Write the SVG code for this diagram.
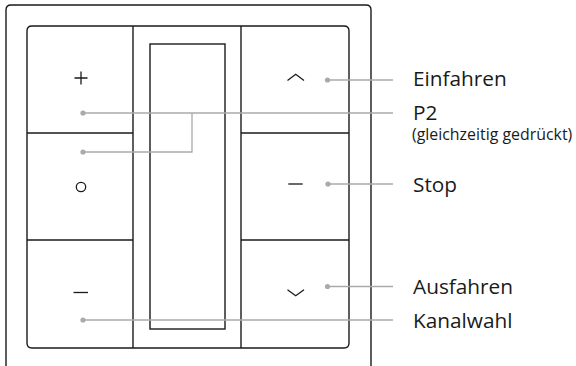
<svg xmlns="http://www.w3.org/2000/svg" width="576" height="366" viewBox="0 0 576 366">
<style>
.frame{fill:none;stroke:#1a1a1a;stroke-width:1.4}
.key{fill:none;stroke:#1a1a1a;stroke-width:1.4}
.sym{fill:none;stroke:#1a1a1a;stroke-width:1.3}
.lead{fill:none;stroke:#aaaaaa;stroke-width:1.3}
.dot{fill:#aaaaaa}
.lbl{font-family:"Open Sans","Noto Sans",sans-serif;font-size:20.8px;fill:#1a1a1a}
.sub{font-family:"Open Sans","Noto Sans",sans-serif;font-size:15.9px;fill:#1a1a1a}
</style>
<rect width="576" height="366" fill="#ffffff"/>
<g id="housing">
<path class="frame" d="M6,370 V10 Q6,5 11,5 H366 Q371,5 371,10 V370"/>
</g>
<g id="panel">
<path class="frame" d="M27,31 Q27,26 32,26 H344 Q349,26 349,31 V343 Q349,348 344,348 H32 Q27,348 27,343 Z"/>
<line class="key" x1="133" y1="26" x2="133" y2="348"/>
<line class="key" x1="241" y1="26" x2="241" y2="348"/>
<line class="key" x1="27" y1="133" x2="133" y2="133"/>
<line class="key" x1="27" y1="240" x2="133" y2="240"/>
<line class="key" x1="241" y1="133" x2="349" y2="133"/>
<line class="key" x1="241" y1="240" x2="349" y2="240"/>
<rect class="key" x="150" y="44" width="75" height="285"/>
</g>
<g id="key-plus"><path class="sym" d="M74.5,78 H87.5 M81,71.5 V84.5"/></g>
<g id="key-circle"><circle class="sym" cx="81" cy="187" r="4.7"/></g>
<g id="key-minus-left"><path class="sym" d="M73.5,292.5 H88" stroke="#444"/></g>
<g id="key-up"><polyline class="sym" points="287.5,80.5 295.7,74.3 304,80.5"/></g>
<g id="key-minus-right"><path class="sym" d="M288.3,184 H302.7"/></g>
<g id="key-down"><polyline class="sym" points="287.5,289.8 295.7,295.8 304,289.8"/></g>
<g id="connectors">
<polyline class="lead" points="327.5,80 393,80"/>
<polyline class="lead" points="83,113 393,113"/>
<polyline class="lead" points="83,152 192,152 192,113"/>
<polyline class="lead" points="328,184 393,184"/>
<polyline class="lead" points="327.5,286.5 393,286.5"/>
<polyline class="lead" points="83,320 393,320"/>
<circle class="dot" cx="327.5" cy="80" r="2.6"/>
<circle class="dot" cx="83" cy="113" r="2.6"/>
<circle class="dot" cx="83" cy="152" r="2.6"/>
<circle class="dot" cx="328" cy="184" r="2.6"/>
<circle class="dot" cx="327.5" cy="286.5" r="2.6"/>
<circle class="dot" cx="83" cy="320" r="2.6"/>
</g>
<g id="label-einfahren"><text class="lbl" x="413" y="86">Einfahren</text></g>
<g id="label-p2"><text class="lbl" x="413" y="120">P2</text><text class="sub" x="412" y="140">(gleichzeitig gedrückt)</text></g>
<g id="label-stop"><text class="lbl" x="413" y="191.5">Stop</text></g>
<g id="label-ausfahren"><text class="lbl" x="413" y="293.5">Ausfahren</text></g>
<g id="label-kanalwahl"><text class="lbl" x="413" y="327.5">Kanalwahl</text></g>
</svg>
